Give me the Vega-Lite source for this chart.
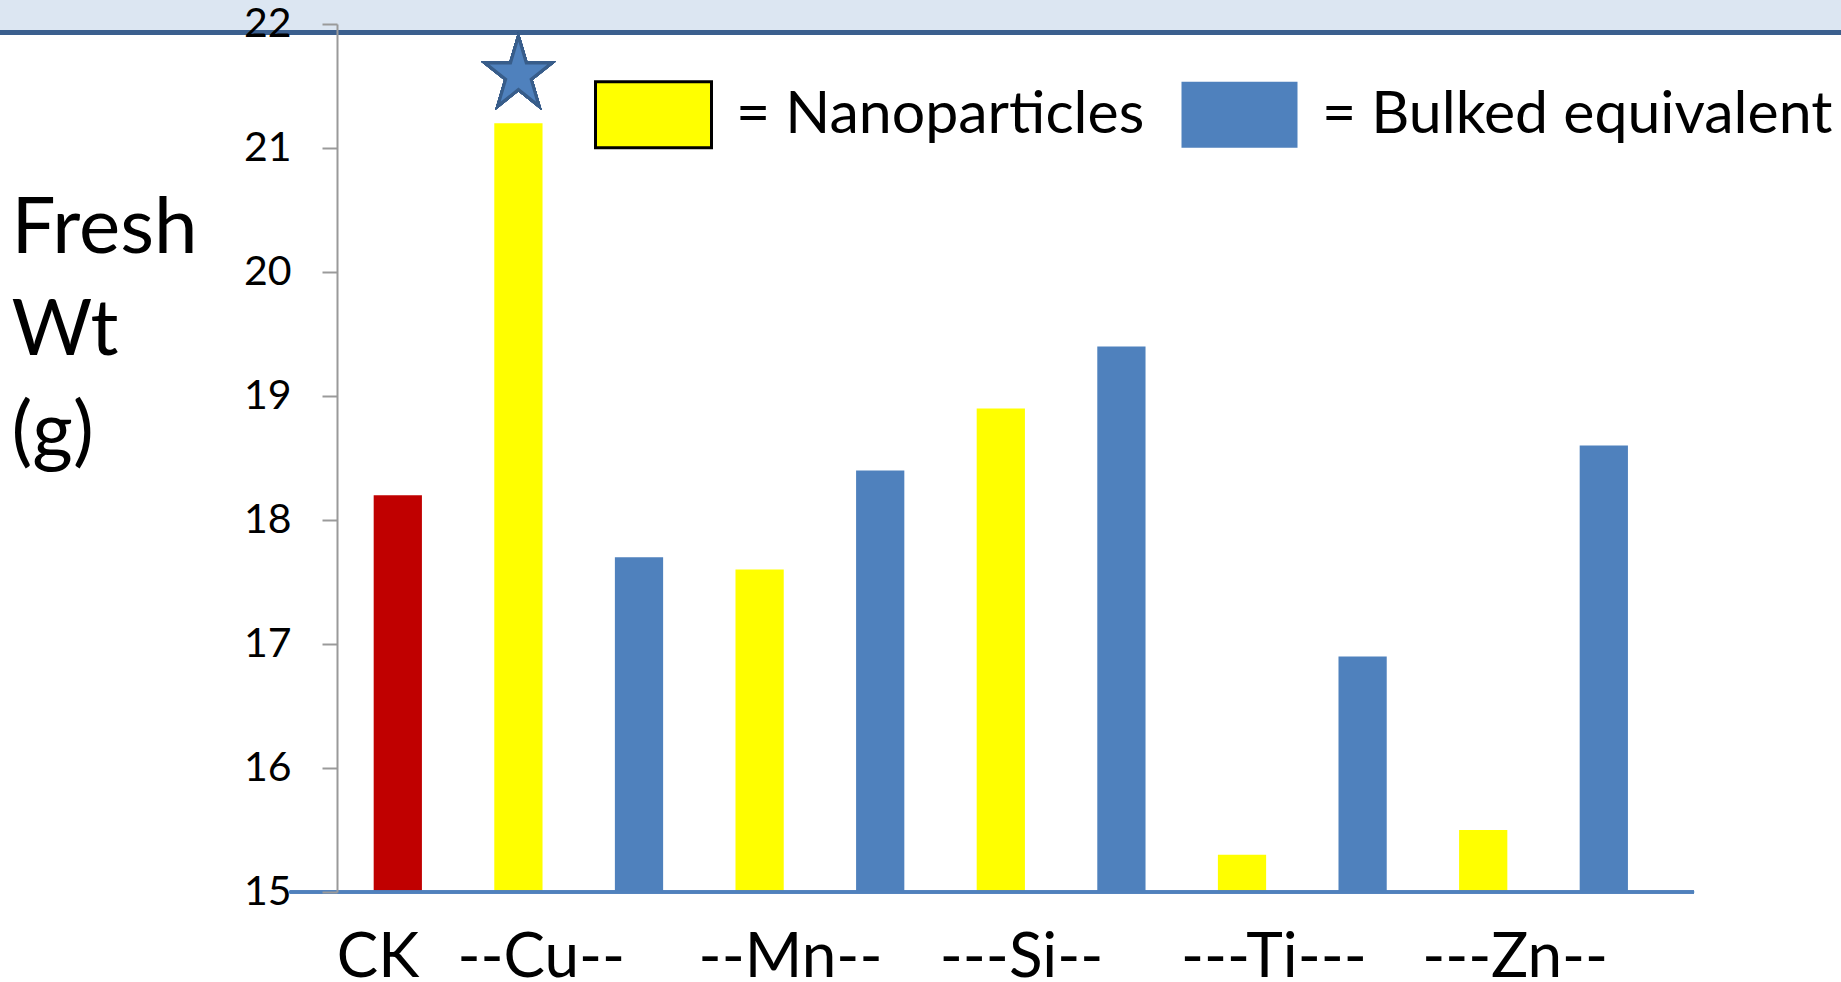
{
  "$schema": "https://vega.github.io/schema/vega-lite/v6.json",
  "width": 1357,
  "height": 868,
  "autosize": {"type": "none"},
  "padding": {"left": 337, "top": 24, "right": 147, "bottom": 90},
  "background": "#ffffff",
  "config": {
    "view": {"stroke": null},
    "font": "Lato",
    "text": {"font": "Lato"}
  },
  "data": {
    "values": [
      {"treatment": "CK", "type": "Control", "wt": 18.2},
      {"treatment": "Cu nano", "type": "Nanoparticles", "wt": 21.2},
      {"treatment": "Cu bulk", "type": "Bulked equivalent", "wt": 17.7},
      {"treatment": "Mn nano", "type": "Nanoparticles", "wt": 17.6},
      {"treatment": "Mn bulk", "type": "Bulked equivalent", "wt": 18.4},
      {"treatment": "Si nano", "type": "Nanoparticles", "wt": 18.9},
      {"treatment": "Si bulk", "type": "Bulked equivalent", "wt": 19.4},
      {"treatment": "Ti nano", "type": "Nanoparticles", "wt": 15.3},
      {"treatment": "Ti bulk", "type": "Bulked equivalent", "wt": 16.9},
      {"treatment": "Zn nano", "type": "Nanoparticles", "wt": 15.5},
      {"treatment": "Zn bulk", "type": "Bulked equivalent", "wt": 18.6}
    ]
  },
  "encoding": {
    "x": {
      "field": "treatment",
      "type": "nominal",
      "sort": null,
      "scale": {
        "domain": ["CK", "Cu nano", "Cu bulk", "Mn nano", "Mn bulk", "Si nano", "Si bulk", "Ti nano", "Ti bulk", "Zn nano", "Zn bulk"],
        "paddingInner": 0.6,
        "paddingOuter": 0.426,
        "align": 0.357
      },
      "axis": {
        "orient": "bottom",
        "title": null,
        "domain": false,
        "ticks": false,
        "tickSize": 0,
        "labelAngle": 0,
        "labelFont": "Lato",
        "labelFontSize": 62,
        "labelColor": "#000000",
        "labelPadding": 84,
        "labelBaseline": "alphabetic",
        "labelAlign": "left",
        "labelOffset": -61,
        "labelOverlap": false,
        "labelLimit": 1000,
        "labelExpr": "datum.value === 'CK' ? 'CK' : datum.value === 'Cu nano' ? '--Cu--' : datum.value === 'Mn nano' ? '--Mn--' : datum.value === 'Si nano' ? '---Si--' : datum.value === 'Ti nano' ? '---Ti---' : datum.value === 'Zn nano' ? '---Zn--' : ''",
        "zindex": 1
      }
    }
  },
  "layer": [
    {
      "mark": {"type": "rect", "clip": false, "fill": "#dce6f2"},
      "encoding": {
        "x": {"datum": "CK", "bandPosition": -7.8},
        "x2": {"datum": "Zn bulk", "bandPosition": 5.5},
        "y": {"datum": 22.2},
        "y2": {"datum": 21.952}
      }
    },
    {
      "mark": {"type": "rule", "clip": false, "stroke": "#3b5f8e", "strokeWidth": 5},
      "encoding": {
        "x": {"datum": "CK", "bandPosition": -7.8},
        "x2": {"datum": "Zn bulk", "bandPosition": 5.5},
        "y": {"datum": 21.931}
      }
    },
    {
      "mark": {"type": "bar"},
      "encoding": {
        "y": {
          "field": "wt",
          "type": "quantitative",
          "scale": {"domain": [15, 22], "nice": false, "zero": false},
          "axis": {
            "values": [15, 16, 17, 18, 19, 20, 21, 22],
            "format": "d",
            "grid": false,
            "domainColor": "#9a9a9a",
            "domainWidth": 2,
            "tickColor": "#9a9a9a",
            "tickWidth": 2,
            "tickSize": 15,
            "labelFont": "Lato",
            "labelFontSize": 41,
            "labelColor": "#000000",
            "labelPadding": 31,
            "title": ["Fresh", "Wt", "(g)"],
            "titleFont": "Lato",
            "titleFontSize": 78,
            "titleFontWeight": "normal",
            "titleColor": "#000000",
            "titleAngle": 0,
            "titleAlign": "left",
            "titleBaseline": "alphabetic",
            "titleX": -326,
            "titleY": 228,
            "titleLineHeight": 102,
            "zindex": 1
          }
        },
        "y2": {"datum": 15},
        "color": {
          "field": "type",
          "type": "nominal",
          "scale": {
            "domain": ["Control", "Nanoparticles", "Bulked equivalent"],
            "range": ["#c00000", "#ffff00", "#4f81bd"]
          },
          "legend": {
            "orient": "none",
            "legendX": 257,
            "legendY": 31,
            "direction": "horizontal",
            "values": ["Nanoparticles", "Bulked equivalent"],
            "title": null,
            "padding": 0,
            "symbolType": "M-1,-0.57H1V0.57H-1Z",
            "symbolSize": 13456,
            "symbolOpacity": 1,
            "labelFont": "Lato",
            "labelFontSize": 59,
            "labelColor": "#000000",
            "labelOffset": 23,
            "labelLimit": 1000,
            "columnPadding": 30,
            "labelExpr": "'= ' + datum.label",
            "encode": {
              "symbols": {
                "update": {
                  "stroke": {"signal": "datum.value === 'Nanoparticles' ? '#000000' : 'transparent'"},
                  "strokeWidth": {"value": 3}
                }
              }
            }
          }
        }
      }
    },
    {
      "mark": {"type": "rule", "clip": false, "stroke": "#4f81bd", "strokeWidth": 2.5},
      "encoding": {
        "x": {"datum": "CK", "bandPosition": -1.74},
        "x2": {"datum": "Zn bulk", "bandPosition": 2.37},
        "y": {"datum": 15}
      }
    },
    {
      "mark": {
        "type": "point",
        "shape": "M0,-1.1L0.2245,-0.34L0.9511,-0.34L0.3633,0.13L0.5878,0.89L0,0.42L-0.5878,0.89L-0.3633,0.13L-0.9511,-0.34L-0.2245,-0.34Z",
        "size": 4900,
        "fill": "#4f81bd",
        "fillOpacity": 1,
        "stroke": "#385d8a",
        "strokeWidth": 3,
        "opacity": 1
      },
      "encoding": {
        "x": {"datum": "Cu nano"},
        "y": {"datum": 21.59}
      }
    }
  ]
}
